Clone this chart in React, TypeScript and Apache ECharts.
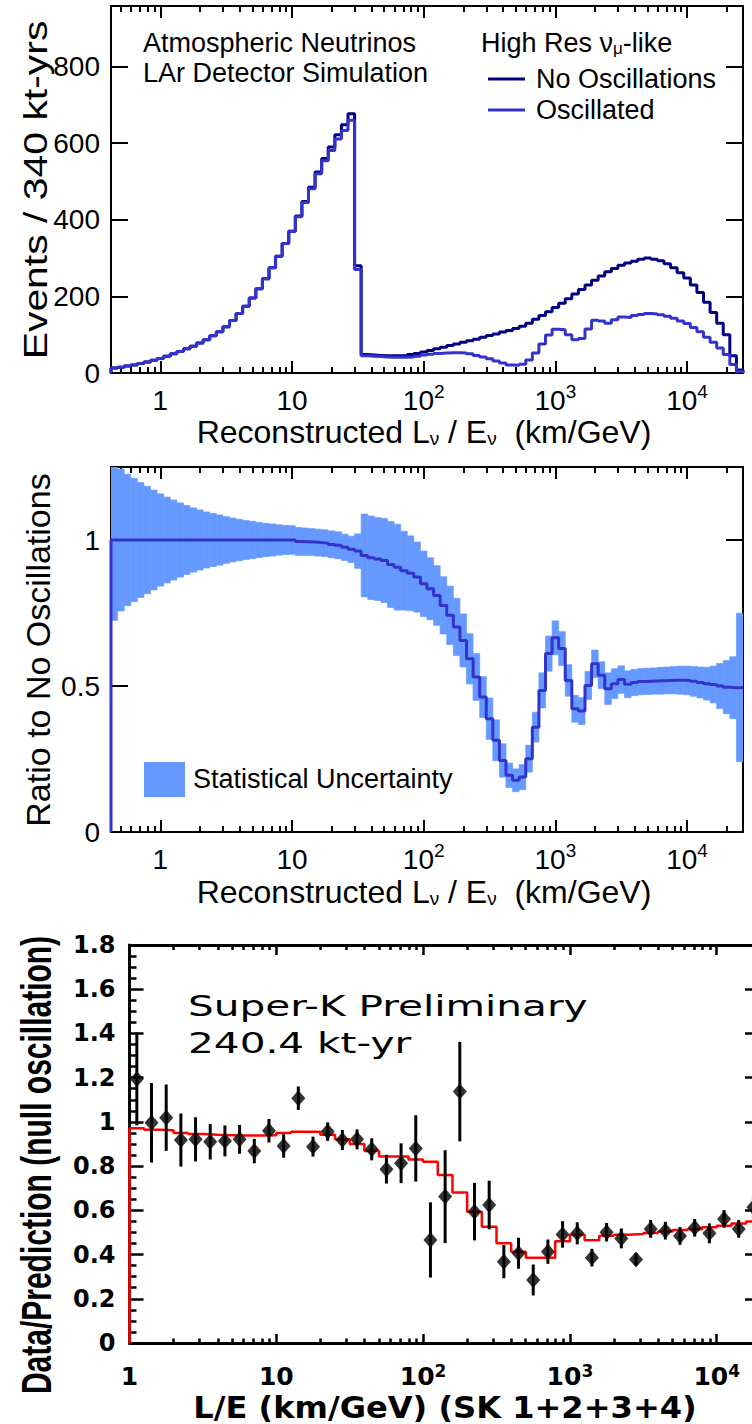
import React, { useEffect, useRef } from "react";
import * as echarts from "echarts";

// ================= Panels 1 & 2: LAr detector simulation =================
// 96 histogram bins, 20 per decade of log10(L/E [km/GeV]), first edge at log10 = -0.375
const simFirstEdgeLog10 = -0.375;
const simBinWidthLog10 = 0.05;

const noOscillationEvents = [
  13, 15, 18, 21, 25, 29, 33, 38, 44, 50,
  56, 63, 70, 78, 87, 97, 108, 121, 137, 155,
  174, 196, 220, 246, 275, 305, 338, 370, 410, 448,
  485, 525, 560, 590, 622, 648, 677, 280, 48, 47,
  46, 45, 45, 45, 46, 48, 51, 55, 59, 63,
  67, 72, 76, 80, 84, 88, 93, 98, 102, 107,
  111, 116, 122, 130, 140, 150, 160, 171, 182, 194,
  206, 218, 230, 242, 253, 264, 273, 281, 287, 292,
  297, 300, 297, 293, 285, 275, 262, 248, 230, 210,
  185, 158, 130, 100, 45, 8,
];

const oscillatedEvents = [
  13, 15, 18, 21, 25, 29, 33, 38, 44, 50,
  56, 63, 70, 78, 87, 97, 108, 121, 137, 155,
  174, 196, 220, 246, 275, 305, 338, 370, 408, 445,
  481, 520, 554, 581, 611, 633, 660, 270, 45, 44,
  43, 42, 41, 41, 41, 42, 44, 47, 49, 51,
  52, 53, 53, 52, 50, 46, 42, 37, 31, 26,
  21, 20, 23, 34, 52, 76, 99, 114, 113, 100,
  87, 90, 115, 138, 136, 130, 139, 146, 145, 150,
  153, 155, 154, 152, 148, 143, 136, 129, 119, 108,
  93, 80, 65, 48, 22, 4,
];

const ratioToNoOscillations = [
  1, 1, 1, 1, 1, 1, 1, 1, 1, 1,
  1, 1, 1, 1, 1, 1, 1, 1, 1, 1,
  1, 1, 1, 1, 1, 1, 1, 1, 0.995, 0.994,
  0.993, 0.991, 0.989, 0.985, 0.982, 0.975, 0.968, 0.962, 0.947, 0.939,
  0.935, 0.93, 0.916, 0.907, 0.895, 0.886, 0.873, 0.85, 0.833, 0.81,
  0.776, 0.742, 0.702, 0.656, 0.593, 0.531, 0.462, 0.388, 0.314, 0.245,
  0.194, 0.177, 0.188, 0.251, 0.359, 0.485, 0.611, 0.665, 0.628, 0.519,
  0.422, 0.414, 0.502, 0.576, 0.537, 0.491, 0.508, 0.522, 0.506, 0.512,
  0.515, 0.516, 0.517, 0.518, 0.519, 0.52, 0.52, 0.519, 0.516, 0.512,
  0.508, 0.505, 0.5, 0.496, 0.494, 0.495,
];

const ratioStatUncertainty = [
  0.275, 0.243, 0.225, 0.211, 0.197, 0.184, 0.171, 0.158, 0.147, 0.137,
  0.127, 0.118, 0.11, 0.103, 0.096, 0.091, 0.086, 0.08, 0.075, 0.071,
  0.067, 0.064, 0.06, 0.057, 0.055, 0.052, 0.05, 0.049, 0.048, 0.047,
  0.046, 0.046, 0.046, 0.046, 0.046, 0.045, 0.045, 0.059, 0.142, 0.143,
  0.142, 0.144, 0.147, 0.147, 0.135, 0.128, 0.12, 0.112, 0.106, 0.102,
  0.098, 0.1, 0.098, 0.091, 0.086, 0.08, 0.07, 0.071, 0.07, 0.057,
  0.042, 0.039, 0.043, 0.046, 0.051, 0.06, 0.06, 0.058, 0.058, 0.054,
  0.046, 0.046, 0.048, 0.047, 0.046, 0.054, 0.051, 0.047, 0.046, 0.045,
  0.045, 0.045, 0.045, 0.046, 0.046, 0.047, 0.048, 0.049, 0.051, 0.053,
  0.056, 0.063, 0.077, 0.091, 0.106, 0.254,
];

// ================= Panel 3: Super-K data / prediction =================
const skPointLog10LE = [
  0.05, 0.15, 0.25, 0.35, 0.45, 0.55, 0.65, 0.75, 0.85, 0.95,
  1.05, 1.15, 1.25, 1.35, 1.45, 1.55, 1.65, 1.75, 1.85, 1.95,
  2.05, 2.15, 2.25, 2.35, 2.45, 2.55, 2.65, 2.75, 2.85, 2.95,
  3.05, 3.15, 3.25, 3.35, 3.45, 3.55, 3.65, 3.75, 3.85, 3.95,
  4.05, 4.15, 4.25,
];
const skDataOverPrediction = [
  1.194, 0.996, 1.019, 0.918, 0.921, 0.91, 0.914, 0.921, 0.868, 0.96,
  0.891, 1.107, 0.888, 0.956, 0.918, 0.921, 0.876, 0.786, 0.813, 0.88,
  0.466, 0.662, 1.137, 0.594, 0.624, 0.368, 0.406, 0.285, 0.413, 0.491,
  0.496, 0.386, 0.501, 0.473, 0.378, 0.516, 0.508, 0.484, 0.521, 0.496,
  0.561, 0.516, 0.614,
];
const skDataError = [
  0.21, 0.18, 0.15, 0.12, 0.1, 0.08, 0.07, 0.065, 0.055, 0.053,
  0.053, 0.053, 0.045, 0.042, 0.045, 0.045, 0.05, 0.065, 0.09, 0.15,
  0.17, 0.21, 0.225, 0.13, 0.11, 0.075, 0.07, 0.07, 0.055, 0.06,
  0.05, 0.04, 0.042, 0.045, 0.027, 0.04, 0.04, 0.04, 0.04, 0.045,
  0.04, 0.04, 0.05,
];
// oscillation prediction histogram: 10 bins per decade from L/E = 1
const skPredFirstEdgeLog10 = 0;
const skPredBinWidthLog10 = 0.1;
const skOscPrediction = [
  0.971, 0.965, 0.962, 0.95, 0.945, 0.942, 0.94, 0.938, 0.938, 0.94,
  0.95, 0.955, 0.955, 0.942, 0.922, 0.9, 0.868, 0.843, 0.843, 0.83,
  0.82, 0.76, 0.681, 0.594, 0.526, 0.451, 0.413, 0.385, 0.385, 0.46,
  0.49, 0.465, 0.485, 0.49, 0.493, 0.497, 0.504, 0.511, 0.515, 0.524,
  0.53, 0.54, 0.549,
];

// ================= axis ticks =================
const decadeTicks = [0, 1, 2, 3, 4]; // log10 of 1, 10, 100, 1000, 10000
const minorMultipliers = [2, 3, 4, 5, 6, 7, 8, 9];
const simMinorTickValues = [0.5, 0.6, 0.7, 0.8, 0.9].concat(
  ...[1, 10, 100, 1000, 10000].map((d) => minorMultipliers.map((m) => m * d))
);
const skMinorTickValues = ([] as number[]).concat(
  ...[1, 10, 100, 1000, 10000].map((d) => minorMultipliers.map((m) => m * d))
);
const eventsTicks = [0, 200, 400, 600, 800];
const ratioTicks = [0, 0.5, 1];
const skYTicks = [0, 0.2, 0.4, 0.6, 0.8, 1, 1.2, 1.4, 1.6, 1.8];
const skYMinorTicks = [
  0.05, 0.1, 0.15, 0.25, 0.3, 0.35, 0.45, 0.5, 0.55, 0.65, 0.7, 0.75, 0.85, 0.9, 0.95,
  1.05, 1.1, 1.15, 1.25, 1.3, 1.35, 1.45, 1.5, 1.55, 1.65, 1.7, 1.75,
];

const SIM_FONT = "'Liberation Sans', Arial, Helvetica, sans-serif";
const SK_FONT = "'DejaVu Sans', Verdana, sans-serif";
const NAVY = "#000080";
const BLUE = "#3333CC";
const BAND = "#6699FF";

function histPoints(values: number[], firstEdge: number, width: number, fromZero: boolean, toZero: boolean) {
  const pts: number[][] = [];
  if (fromZero) pts.push([firstEdge, 0]);
  values.forEach((v, k) => {
    pts.push([firstEdge + k * width, v], [firstEdge + (k + 1) * width, v]);
  });
  if (toZero) pts.push([firstEdge + values.length * width, 0]);
  return pts;
}

function decadeLabel(v: number) {
  const e = Math.round(v);
  if (e === 0) return "1";
  if (e === 1) return "10";
  return "10{sup|" + e + "}";
}

function xAxesFor(gridIndex: number, min: number, max: number, minors: number[], s: any) {
  const base = { type: "value", gridIndex, min, max, splitLine: { show: false } };
  const line = { show: true, onZero: false, lineStyle: { color: "#000", width: s.lineWidth } };
  const major = { show: true, inside: true, length: s.majorLen, customValues: decadeTicks, lineStyle: { color: "#000", width: s.tickWidth } };
  const minor = { show: true, inside: true, length: s.minorLen, customValues: minors.map((m) => Math.log10(m)), lineStyle: { color: "#000", width: s.tickWidth } };
  return [
    {
      ...base,
      position: "bottom",
      axisLine: line,
      axisTick: major,
      axisLabel: {
        show: true,
        customValues: decadeTicks,
        formatter: decadeLabel,
        margin: s.labelMargin,
        color: "#000",
        fontSize: s.fontSize,
        fontFamily: s.fontFamily,
        fontWeight: s.fontWeight,
        lineHeight: s.lineHeight,
        rich: {
          sup: {
            fontSize: s.supSize,
            lineHeight: s.supSize,
            verticalAlign: "top",
            fontFamily: s.fontFamily,
            fontWeight: s.fontWeight,
            color: "#000",
          },
        },
      },
    },
    { ...base, position: "bottom", axisLine: { show: false, onZero: false }, axisTick: minor, axisLabel: { show: false } },
    { ...base, position: "top", axisLine: line, axisTick: { ...major, length: s.topMajorLen }, axisLabel: { show: false } },
    { ...base, position: "top", axisLine: { show: false, onZero: false }, axisTick: { ...minor, length: s.topMinorLen }, axisLabel: { show: false } },
  ];
}

function yAxesFor(gridIndex: number, max: number, majors: number[], minors: number[] | null, s: any) {
  const base = { type: "value", gridIndex, min: 0, max, splitLine: { show: false } };
  const line = { show: true, onZero: false, lineStyle: { color: "#000", width: s.lineWidth } };
  const major = { show: true, inside: true, length: s.majorLen, customValues: majors, lineStyle: { color: "#000", width: s.tickWidth } };
  const axes: any[] = [
    {
      ...base,
      position: "left",
      axisLine: line,
      axisTick: major,
      axisLabel: {
        show: true,
        customValues: majors,
        margin: s.labelMargin,
        color: "#000",
        fontSize: s.fontSize,
        fontFamily: s.fontFamily,
        fontWeight: s.fontWeight,
      },
    },
    { ...base, position: "right", axisLine: line, axisTick: major, axisLabel: { show: false } },
  ];
  if (minors) {
    const minor = { show: true, inside: true, length: s.minorLen, customValues: minors, lineStyle: { color: "#000", width: s.tickWidth } };
    axes.push({ ...base, position: "left", axisLine: { show: false, onZero: false }, axisTick: minor, axisLabel: { show: false } });
    axes.push({ ...base, position: "right", axisLine: { show: false, onZero: false }, axisTick: minor, axisLabel: { show: false } });
  }
  return axes;
}

function buildOption() {
  const simMax = simFirstEdgeLog10 + noOscillationEvents.length * simBinWidthLog10;
  const simX = {
    lineWidth: 2, tickWidth: 2, majorLen: 12, minorLen: 6, topMajorLen: 12, topMinorLen: 6,
    labelMargin: 9, fontSize: 28, fontFamily: SIM_FONT, fontWeight: "normal", lineHeight: 36, supSize: 19,
  };
  const simY = { lineWidth: 2, tickWidth: 2, majorLen: 17, labelMargin: 11, fontSize: 28, fontFamily: SIM_FONT, fontWeight: "normal" };
  const skX = {
    lineWidth: 3, tickWidth: 2.5, majorLen: 9, minorLen: 4.5, topMajorLen: 10, topMinorLen: 5,
    labelMargin: 19, fontSize: 25, fontFamily: SK_FONT, fontWeight: "bold", lineHeight: 28, supSize: 17,
  };
  const skY = { lineWidth: 3, tickWidth: 2.5, majorLen: 14, minorLen: 7, labelMargin: 14, fontSize: 24, fontFamily: SK_FONT, fontWeight: "bold" };

  const xAxis = [
    ...xAxesFor(0, simFirstEdgeLog10, simMax, simMinorTickValues, simX),
    ...xAxesFor(1, simFirstEdgeLog10, simMax, simMinorTickValues, simX),
    ...xAxesFor(2, 0, 4.288, skMinorTickValues, skX),
  ];
  const yAxis = [
    ...yAxesFor(0, 958, eventsTicks, null, simY),
    ...yAxesFor(1, 1.25, ratioTicks, null, simY),
    ...yAxesFor(2, 1.8, skYTicks, skYMinorTicks, skY),
  ];

  const bandData = ratioToNoOscillations.map((r, k) => [
    simFirstEdgeLog10 + k * simBinWidthLog10,
    simFirstEdgeLog10 + (k + 1) * simBinWidthLog10,
    r - ratioStatUncertainty[k],
    r + ratioStatUncertainty[k],
  ]);
  const errData = skPointLog10LE.map((x, i) => [x, skDataOverPrediction[i] - skDataError[i], skDataOverPrediction[i] + skDataError[i]]);
  const pointData = skPointLog10LE.map((x, i) => [x, skDataOverPrediction[i]]);

  const simText = (text: string, x: number, y: number, extra: any = {}) => ({
    type: "text",
    x,
    y,
    style: {
      text,
      fill: "#000",
      fontSize: 27,
      fontFamily: SIM_FONT,
      textAlign: "left",
      textVerticalAlign: "middle",
      verticalAlign: "middle",
      ...extra,
    },
  });
  const subRich = (size: number) => ({
    sub: { fontSize: size, lineHeight: size, verticalAlign: "bottom", fontFamily: SIM_FONT, fill: "#000", color: "#000" },
  });

  const xTitle = "Reconstructed L{sub|ν} / E{sub|ν}  (km/GeV)";

  return {
    animation: false,
    backgroundColor: "#fff",
    grid: [
      { left: 111, top: 6, width: 632, height: 367, outerBoundsMode: "none", containLabel: false },
      { left: 111, top: 467, width: 632, height: 365, outerBoundsMode: "none", containLabel: false },
      { left: 129.5, top: 945, width: 629.5, height: 398, outerBoundsMode: "none", containLabel: false },
    ],
    xAxis,
    yAxis,
    series: [
      {
        type: "line", xAxisIndex: 0, yAxisIndex: 0, name: "No Oscillations",
        data: histPoints(noOscillationEvents, simFirstEdgeLog10, simBinWidthLog10, true, true),
        symbol: "none", showSymbol: false, lineStyle: { color: NAVY, width: 3 }, itemStyle: { color: NAVY }, z: 2, silent: true,
      },
      {
        type: "line", xAxisIndex: 0, yAxisIndex: 0, name: "Oscillated",
        data: histPoints(oscillatedEvents, simFirstEdgeLog10, simBinWidthLog10, true, true),
        symbol: "none", showSymbol: false, lineStyle: { color: BLUE, width: 3 }, itemStyle: { color: BLUE }, z: 3, silent: true,
      },
      {
        type: "custom", xAxisIndex: 4, yAxisIndex: 2, name: "Statistical Uncertainty",
        data: bandData, encode: { x: [0, 1], y: [2, 3] }, clip: true, z: 1, silent: true,
        renderItem: (_p: any, api: any) => {
          const a = api.coord([api.value(0), api.value(3)]);
          const b = api.coord([api.value(1), api.value(2)]);
          return {
            type: "rect",
            shape: { x: a[0], y: a[1], width: b[0] - a[0], height: b[1] - a[1] },
            style: { fill: BAND, stroke: BAND, lineWidth: 0.7 },
          };
        },
      },
      {
        type: "line", xAxisIndex: 4, yAxisIndex: 2, name: "Ratio",
        data: histPoints(ratioToNoOscillations, simFirstEdgeLog10, simBinWidthLog10, true, false),
        symbol: "none", showSymbol: false, lineStyle: { color: BLUE, width: 3 }, itemStyle: { color: BLUE }, z: 3, silent: true,
      },
      {
        type: "line", xAxisIndex: 8, yAxisIndex: 4, name: "Prediction",
        data: histPoints(skOscPrediction, skPredFirstEdgeLog10, skPredBinWidthLog10, true, false),
        symbol: "none", showSymbol: false, lineStyle: { color: "#FF0000", width: 2.5 }, itemStyle: { color: "#FF0000" }, z: 2, silent: true,
      },
      {
        type: "custom", xAxisIndex: 8, yAxisIndex: 4, name: "Errors",
        data: errData, encode: { x: 0, y: [1, 2] }, clip: true, z: 3, silent: true,
        renderItem: (_p: any, api: any) => {
          const a = api.coord([api.value(0), api.value(1)]);
          const b = api.coord([api.value(0), api.value(2)]);
          return { type: "line", shape: { x1: a[0], y1: a[1], x2: b[0], y2: b[1] }, style: { stroke: "#000", lineWidth: 3 } };
        },
      },
      {
        type: "scatter", xAxisIndex: 8, yAxisIndex: 4, name: "Data",
        data: pointData, symbol: "diamond", symbolSize: [14, 16], itemStyle: { color: "#000" }, z: 4, silent: true,
      },
    ],
    graphic: [
      // panel 1
      simText("Atmospheric Neutrinos", 143, 43),
      simText("LAr Detector Simulation", 143, 73),
      simText("High Res ν{sub|μ}-like", 481, 43, { rich: subRich(17) }),
      { type: "line", shape: { x1: 488, y1: 79, x2: 525, y2: 79 }, style: { stroke: NAVY, lineWidth: 3 } },
      simText("No Oscillations", 536, 79),
      { type: "line", shape: { x1: 488, y1: 110, x2: 525, y2: 110 }, style: { stroke: BLUE, lineWidth: 3 } },
      simText("Oscillated", 536, 110),
      simText(xTitle, 424, 432, { fontSize: 32, textAlign: "center", rich: subRich(19) }),
      {
        ...simText("Events / 340 kt-yrs", 35, 190, { fontSize: 33, textAlign: "center" }),
        rotation: Math.PI / 2,
        scaleX: 1.24,
      },
      // panel 2
      { type: "rect", shape: { x: 144, y: 762, width: 41, height: 35 }, style: { fill: BAND } },
      simText("Statistical Uncertainty", 193, 779),
      simText(xTitle, 424, 892, { fontSize: 32, textAlign: "center", rich: subRich(19) }),
      {
        ...simText("Ratio to No Oscillations", 38, 650, { fontSize: 34, textAlign: "center" }),
        rotation: Math.PI / 2,
      },
      // panel 3
      {
        type: "text", x: 188, y: 1006, scaleX: 1.4,
        style: { text: "Super-K Preliminary", fill: "#000", fontSize: 29, fontFamily: SK_FONT, textAlign: "left", textVerticalAlign: "middle", verticalAlign: "middle" },
      },
      {
        type: "text", x: 188, y: 1043, scaleX: 1.4,
        style: { text: "240.4 kt-yr", fill: "#000", fontSize: 29, fontFamily: SK_FONT, textAlign: "left", textVerticalAlign: "middle", verticalAlign: "middle" },
      },
      {
        type: "text", x: 445, y: 1407, scaleX: 1.07,
        style: { text: "L/E (km/GeV) (SK 1+2+3+4)", fill: "#000", fontSize: 30, fontWeight: "bold", fontFamily: SK_FONT, textAlign: "center", textVerticalAlign: "middle", verticalAlign: "middle" },
      },
      {
        type: "text", x: 37, y: 1165, rotation: Math.PI / 2, scaleY: 1.42,
        style: { text: "Data/Prediction (null oscillation)", fill: "#000", fontSize: 30, fontWeight: "bold", fontFamily: SIM_FONT, textAlign: "center", textVerticalAlign: "middle", verticalAlign: "middle" },
      },
    ],
  };
}

export default function App() {
  const ref = useRef<HTMLDivElement>(null);
  useEffect(() => {
    if (!ref.current) return;
    const chart = echarts.init(ref.current, undefined, { renderer: "svg", width: 752, height: 1424 });
    chart.setOption(buildOption() as any);
    return () => chart.dispose();
  }, []);
  return (
    <div
      ref={ref}
      style={{ position: "absolute", left: 0, top: 0, width: 752, height: 1424, background: "#fff" }}
    />
  );
}
